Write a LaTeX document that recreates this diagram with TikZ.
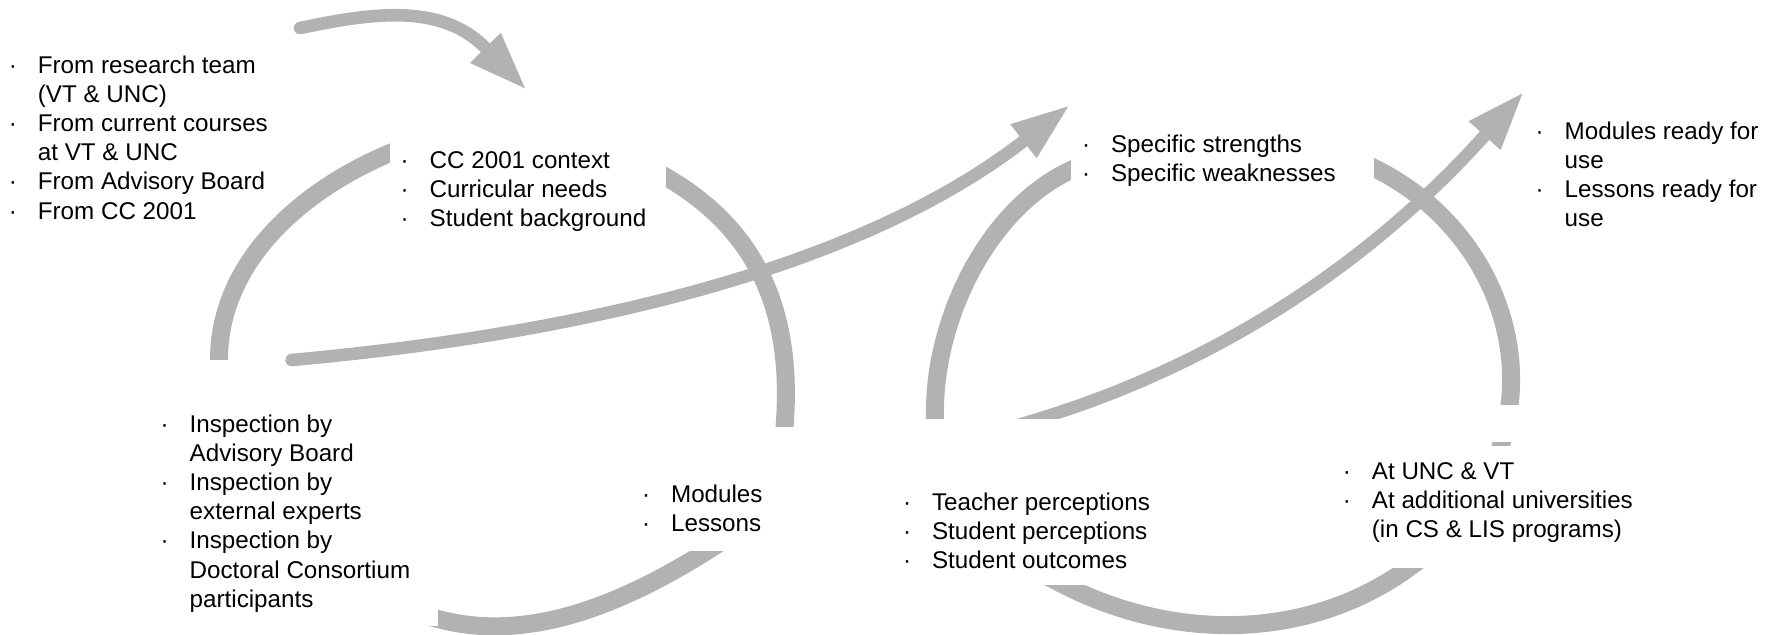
\documentclass[tikz,border=0pt]{standalone}
\usepackage{fontspec}
\setmainfont{Liberation Sans}
\usetikzlibrary{arrows.meta}
\newcommand{\dotitem}{\makebox[14.5pt][l]{\textperiodcentered}}
\newcommand{\dotgap}{\hspace*{14.5pt}}

\begin{document}
\begin{tikzpicture}[x=0.5pt,y=-0.5pt,
  band/.style={gray!60,line width=9pt},
  flow/.style={gray!60,line width=6.3pt,line cap=round,-{Triangle[length=29.5pt,width=19.5pt]}},
  mask/.style={fill=white},
  txt/.style={anchor=base west,inner sep=0pt,font=\fontsize{12.1}{14.6}\selectfont}]
\clip (0,0) rectangle (1779,634);
% left cycle
\draw[band] (219,375) -- (219,360) .. controls (219,262.5) and (300,191) .. (390,153) -- (413,143.3);
\draw[band] (644.4,164.5) -- (666,177) .. controls (761,232) and (793.3,317) .. (784.5,427) -- (782.9,447);
\draw[band] (728,537.8) -- (707,551) .. controls (625.5,601.8) and (530.6,643.8) .. (438,619) -- (419,614);
% right cycle
\draw[band] (935,437) -- (935,419) .. controls (932.2,324) and (985.5,209.9) .. (1071,170) -- (1093.5,159.5);
\draw[band] (1351.5,157) -- (1374,168) .. controls (1477.9,218.8) and (1535.7,334.9) .. (1501,445) -- (1495,464);
\draw[band] (1041.7,573.6) -- (1064,585) .. controls (1174.8,641.4) and (1308.4,640.7) .. (1409,567.7) -- (1429.2,553);
\draw[flow] (999.8,430.7) -- (1038,419) .. controls (1209.6,366.6) and (1364.8,269) .. (1484.7,135.5) -- (1524,91.7);
% text boxes hide the cycles
\fill[mask] (390,100) rectangle (666,250);
\fill[mask] (140,360) rectangle (438,626);
\fill[mask] (640,427) rectangle (800,551);
\fill[mask] (900,419) rectangle (1090,585);
\fill[mask] (1071,100) rectangle (1374,215);
\fill[mask] (1340,405) rectangle (1779,441.5);
\fill[mask] (1340,445.5) rectangle (1779,567.7);
\draw[flow] (291.7,360) .. controls (600,332) and (865.3,263.3) .. (1023.3,141.3) -- (1070,105);
\draw[flow] (300,28) .. controls (364.5,14.8) and (439,0.8) .. (485,47.5) -- (526.7,90);

\node[txt] (from) at (8.5,73) {\begin{tabular}[t]{@{}l@{}}
\dotitem From research team\\ \dotgap(VT \& UNC)\\
\dotitem From current courses\\ \dotgap at VT \& UNC\\
\dotitem From Advisory Board\\ \dotitem From CC 2001\end{tabular}};
\node[txt] (context) at (400.3,168) {\begin{tabular}[t]{@{}l@{}}
\dotitem CC 2001 context\\ \dotitem Curricular needs\\ \dotitem Student background\end{tabular}};
\node[txt] (inspect) at (160.3,432) {\begin{tabular}[t]{@{}l@{}}
\dotitem Inspection by\\ \dotgap Advisory Board\\
\dotitem Inspection by\\ \dotgap external experts\\
\dotitem Inspection by\\ \dotgap Doctoral Consortium\\ \dotgap participants\end{tabular}};
\node[txt] (modules) at (641.7,502.7) {\begin{tabular}[t]{@{}l@{}}
\dotitem Modules\\ \dotitem Lessons\end{tabular}};
\node[txt] (percept) at (902.7,510) {\begin{tabular}[t]{@{}l@{}}
\dotitem Teacher perceptions\\ \dotitem Student perceptions\\ \dotitem Student outcomes\end{tabular}};
\node[txt] (univ) at (1342.5,479) {\begin{tabular}[t]{@{}l@{}}
\dotitem At UNC \& VT\\ \dotitem At additional universities\\ \dotgap(in CS \& LIS programs)\end{tabular}};
\node[txt] (strength) at (1081.7,152.7) {\begin{tabular}[t]{@{}l@{}}
\dotitem Specific strengths\\ \dotitem Specific weaknesses\end{tabular}};
\node[txt] (ready) at (1535.3,139) {\begin{tabular}[t]{@{}l@{}}
\dotitem Modules ready for\\ \dotgap use\\
\dotitem Lessons ready for\\ \dotgap use\end{tabular}};
\end{tikzpicture}
\end{document}
